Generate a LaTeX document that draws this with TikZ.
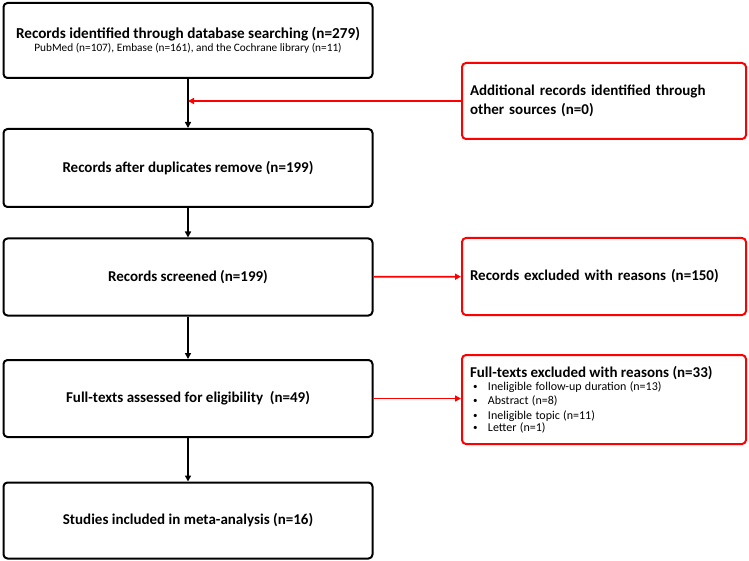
\documentclass[tikz,border=0pt]{standalone}
\usepackage{fontspec}
\setmainfont{Carlito}
\usetikzlibrary{arrows.meta, calc}

\newcommand{\smallbul}{\hspace*{3pt}\raisebox{1pt}{\fontsize{9}{9}\selectfont\textbullet}\hspace{10.5pt}}

\begin{document}
\begin{tikzpicture}[x=1pt, y=-1pt,
        mainbox/.style={draw=black, line width=2pt, rounded corners=4pt, minimum width=369pt, align=center, inner sep=0pt},
        sidebox/.style={draw=red, line width=2pt, rounded corners=4pt, minimum width=284pt, text width=268pt, align=left, inner sep=0pt},
        flowarr/.style={line width=1.7pt, -{Triangle[length=6pt, width=6pt]}},
        redarr/.style={draw=red, line width=1.7pt, -{Triangle[length=6pt, width=6pt]}, red},
        title/.style={font=\fontsize{15}{18.5}\selectfont\bfseries}]
        \useasboundingbox (0,0) rectangle (749,561);

        % left column
        \node[mainbox, minimum height=75pt] (ident) at (188,40.5) {%
            {\fontsize{15.2}{16}\selectfont\bfseries Records identified through database searching (n=279)}\\[1pt]
            {\fontsize{11.3}{13}\selectfont PubMed (n=107), Embase (n=161), and the Cochrane library (n=11)}};
        \node[mainbox, minimum height=78pt, title] (dup) at (188,168) {Records after duplicates remove (n=199)};
        \node[mainbox, minimum height=77pt, title] (screen) at (188,277) {Records screened (n=199)};
        \node[mainbox, minimum height=77pt, title] (full) at (188,398.5) {Full-texts assessed for eligibility~ (n=49)};
        \node[mainbox, minimum height=76pt, title] (incl) at (188,520.5) {Studies included in meta-analysis (n=16)};

        % right column
        \node[sidebox, minimum height=76pt, title] (other) at (604,101) {Additional records identified through\\other sources (n=0)};
        \node[sidebox, minimum height=77pt, title] (excl) at (604,276.5) {Records excluded with reasons (n=150)};
        \node[sidebox, minimum height=89pt] (fullexcl) at (604,399.5) {%
            {\fontsize{15}{16}\selectfont\bfseries Full-texts excluded with reasons (n=33)}\\[-1pt]
            {\fontsize{12}{14.2}\selectfont
            \smallbul Ineligible follow-up duration (n=13)\\
            \smallbul Abstract (n=8)\\
            \smallbul Ineligible topic (n=11)\\
            \smallbul Letter (n=1)}};

        % connectors
        \draw[flowarr] (ident) -- (dup);
        \draw[flowarr] (dup) -- (screen);
        \draw[flowarr] (screen) -- (full);
        \draw[flowarr] (full) -- (incl);
        \draw[redarr] (other.west) -- (other.west -| ident.south);
        \draw[redarr] (screen) -- (excl);
        \draw[redarr] (full) -- (fullexcl.west |- full);
    \end{tikzpicture}
\end{document}
